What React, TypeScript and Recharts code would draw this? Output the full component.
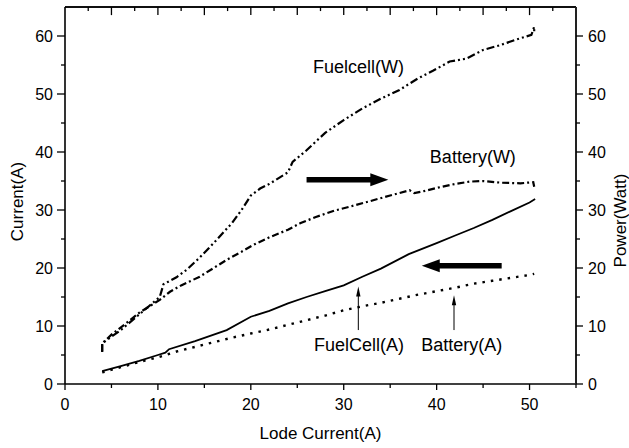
import React from 'react';
import { LineChart, Line, XAxis, YAxis, ReferenceLine, ReferenceDot, Label, CartesianGrid } from 'recharts';

// Lode current (A) sampled along each trace
const fuelCellCurrentX = [4, 6, 8, 10, 10.8, 11.2, 14, 17.4, 20, 22, 24, 26, 28, 30, 32, 34, 37, 40, 42, 44, 46, 48, 50, 50.6];
const fuelCellCurrentY = [2.2, 3.1, 4.0, 5.0, 5.4, 6.0, 7.4, 9.3, 11.6, 12.6, 13.9, 15.0, 16.0, 17.0, 18.5, 19.9, 22.4, 24.3, 25.6, 26.9, 28.3, 29.8, 31.3, 31.9];

const batteryCurrentX = [4, 6, 8, 10, 12, 14, 16, 18, 20, 22, 24, 26, 28, 30, 32, 34, 36, 38, 40, 42, 44, 46, 48, 50, 50.5];
const batteryCurrentY = [2.0, 2.9, 3.8, 4.6, 5.6, 6.4, 7.2, 8.0, 8.7, 9.4, 10.2, 11.0, 11.8, 12.7, 13.4, 14.0, 14.7, 15.4, 16.0, 16.6, 17.3, 17.8, 18.3, 18.8, 19.0];

const batteryPowerX = [4, 4, 5, 6.6, 8, 10.2, 11.3, 12.5, 14.5, 16, 17.4, 19, 20.3, 22, 24, 25.3, 27, 29, 30.7, 33, 35, 37.1, 37.6, 38.5, 40, 42, 43.6, 45, 47, 49, 50.4, 50.5];
const batteryPowerY = [5.6, 7.0, 8.5, 10.5, 12.3, 14.5, 15.9, 17.0, 18.5, 20.0, 21.4, 22.8, 24.0, 25.3, 26.6, 27.7, 28.8, 29.9, 30.6, 31.6, 32.5, 33.4, 32.9, 33.2, 33.8, 34.5, 34.9, 35.0, 34.7, 34.6, 34.8, 34.0];

const fuelCellPowerX = [4, 4, 6, 8, 10.2, 10.6, 12, 13.1, 14.5, 16, 18, 19, 20, 21, 22, 23, 24, 24.5, 26, 28, 30, 32, 34, 36, 38, 39.6, 41.4, 43.2, 45, 46.8, 48.6, 50.2, 50.5, 50.5];
const fuelCellPowerY = [5.5, 7.0, 9.3, 12.0, 15.0, 17.2, 18.4, 19.7, 21.8, 24.3, 27.8, 30.0, 32.5, 33.7, 34.5, 35.5, 36.5, 38.3, 40.3, 43.3, 45.5, 47.5, 49.2, 50.7, 52.7, 54.0, 55.6, 56.1, 57.6, 58.4, 59.4, 60.2, 61.6, 60.5];

// Axis ticks
const xTicks = [0, 5, 10, 15, 20, 25, 30, 35, 40, 45, 50, 55];
const xTopTicks = [2.5, 5, 7.5, 10, 12.5, 15, 17.5, 20, 22.5, 25, 27.5, 30, 32.5, 35, 37.5, 40, 42.5, 45, 47.5, 50, 52.5];
const yTicks = [0, 5, 10, 15, 20, 25, 30, 35, 40, 45, 50, 55, 60];
const X_MAX = 55;
const Y_MAX = 65;

// Curve annotations: [text, lode current, value]
const curveLabels: [string, number, number][] = [
  ['Fuelcell(W)', 31.6, 54.6],
  ['Battery(W)', 43.9, 39.2],
  ['FuelCell(A)', 31.65, 6.8],
  ['Battery(A)', 42.7, 6.8],
];

// Pointer arrows: [x tail, y tail, x tip, y tip]
const thinArrows: [number, number, number, number][] = [
  [31.57, 9.3, 31.57, 16.8],
  [41.87, 9.3, 41.87, 15.3],
];
const thickArrows: [number, number, number, number][] = [
  [26.0, 35.2, 34.8, 35.2],
  [47.0, 20.4, 38.4, 20.4],
];

const zip = (xs: number[], ys: number[]) => xs.map((x, i) => ({ x, y: ys[i] }));
const fuelCellCurrent = zip(fuelCellCurrentX, fuelCellCurrentY);
const batteryCurrent = zip(batteryCurrentX, batteryCurrentY);
const batteryPower = zip(batteryPowerX, batteryPowerY);
const fuelCellPower = zip(fuelCellPowerX, fuelCellPowerY);

const FONT = "Arial, 'Liberation Sans', Helvetica, sans-serif";

const LeftTick = (p: any) => {
  const v = p.payload.value;
  const major = v % 10 === 0;
  return (
    <g>
      <line x1={p.x - (major ? 8 : 4)} x2={p.x} y1={p.y} y2={p.y} stroke="#000" strokeWidth={1.3} />
      {major && (
        <text x={p.x - 12} y={p.y} textAnchor="end" dominantBaseline="central" fontSize={16} fontFamily={FONT} fill="#000">
          {v}
        </text>
      )}
    </g>
  );
};

const RightTick = (p: any) => {
  const v = p.payload.value;
  const major = v % 10 === 0;
  return (
    <g>
      <line x1={p.x} x2={p.x + (major ? 7 : 4)} y1={p.y} y2={p.y} stroke="#000" strokeWidth={1.3} />
      {major && (
        <text x={p.x + 12} y={p.y} textAnchor="start" dominantBaseline="central" fontSize={16} fontFamily={FONT} fill="#000">
          {v}
        </text>
      )}
    </g>
  );
};

const BottomTick = (p: any) => {
  const v = p.payload.value;
  const major = v % 10 === 0;
  return (
    <g>
      <line x1={p.x} x2={p.x} y1={p.y} y2={p.y + (major ? 6 : 4)} stroke="#000" strokeWidth={1.3} />
      {major && (
        <text x={p.x} y={p.y + 20} textAnchor="middle" dominantBaseline="central" fontSize={16} fontFamily={FONT} fill="#000">
          {v}
        </text>
      )}
    </g>
  );
};

const arrowShape = (shaft: number, headLen: number, headHalf: number) => (p: any) => {
  const { x1, y1, x2, y2 } = p;
  const dx = x2 - x1;
  const dy = y2 - y1;
  const len = Math.hypot(dx, dy) || 1;
  const ux = dx / len;
  const uy = dy / len;
  const bx = x2 - ux * headLen;
  const by = y2 - uy * headLen;
  const px = -uy * headHalf;
  const py = ux * headHalf;
  return (
    <g>
      <line x1={x1} y1={y1} x2={bx + ux} y2={by + uy} stroke="#000" strokeWidth={shaft} />
      <polygon points={`${x2},${y2} ${bx + px},${by + py} ${bx - px},${by - py}`} fill="#000" />
    </g>
  );
};

const thinArrow = arrowShape(1, 10, 2.2);
const thickArrow = arrowShape(5.5, 18, 6.5);

// Short inward tick on the top frame edge; the segment runs from the edge down a little way
const topTickShape = (p: any) => (
  <line x1={p.x1} x2={p.x2} y1={p.y1} y2={p.y2} stroke="#000" strokeWidth={1.3} />
);

const textShape = (text: string) => (p: any) => (
  <text x={p.cx} y={p.cy} textAnchor="middle" dominantBaseline="central" fontSize={18} fontFamily={FONT} fill="#000">
    {text}
  </text>
);

export default function App() {
  return (
    <div style={{ position: 'absolute', left: 0, top: 0, background: '#fff' }}>
      <LineChart width={629} height={448} margin={{ top: 7, right: 0, bottom: 0, left: 0 }}>
        {/* top frame edge as a single grid line at the top of the value range */}
        <CartesianGrid
          xAxisId="bottom"
          yAxisId="left"
          vertical={false}
          horizontalValues={[Y_MAX]}
          stroke="#000"
          strokeWidth={1.6}
          strokeDasharray="0"
          fill="none"
        />
        <XAxis
          xAxisId="bottom"
          type="number"
          dataKey="x"
          domain={[0, X_MAX]}
          ticks={xTicks}
          interval={0}
          height={64}
          tickSize={0}
          tickMargin={0}
          tickLine={false}
          tick={BottomTick}
          axisLine={{ stroke: '#000', strokeWidth: 1.6 }}
          allowDataOverflow
        >
          <Label
            content={(lp: any) => {
              const vb = lp.viewBox;
              return (
                <text x={vb.x + vb.width / 2} y={vb.y + 49} textAnchor="middle" dominantBaseline="central" fontSize={17} fontFamily={FONT} fill="#000">
                  Lode Current(A)
                </text>
              );
            }}
          />
        </XAxis>
        <YAxis
          yAxisId="left"
          type="number"
          domain={[0, Y_MAX]}
          ticks={yTicks}
          interval={0}
          width={65}
          tickSize={0}
          tickMargin={0}
          tickLine={false}
          tick={LeftTick}
          axisLine={{ stroke: '#000', strokeWidth: 1.6 }}
          allowDataOverflow
        >
          <Label
            content={(lp: any) => {
              const vb = lp.viewBox;
              const cx = vb.x + 17;
              const cy = vb.y + vb.height / 2 + 6;
              return (
                <text x={cx} y={cy} transform={`rotate(-90 ${cx} ${cy})`} textAnchor="middle" dominantBaseline="central" fontSize={17} fontFamily={FONT} fill="#000">
                  Current(A)
                </text>
              );
            }}
          />
        </YAxis>
        <YAxis
          yAxisId="right"
          orientation="right"
          type="number"
          domain={[0, Y_MAX]}
          ticks={yTicks}
          interval={0}
          width={53}
          tickSize={0}
          tickMargin={0}
          tickLine={false}
          tick={RightTick}
          axisLine={{ stroke: '#222', strokeWidth: 2 }}
          allowDataOverflow
        >
          <Label
            content={(lp: any) => {
              const vb = lp.viewBox;
              const cx = vb.x + 44;
              const cy = vb.y + vb.height / 2 + 25;
              return (
                <text x={cx} y={cy} transform={`rotate(-90 ${cx} ${cy})`} textAnchor="middle" dominantBaseline="central" fontSize={17} fontFamily={FONT} fill="#000">
                  Power(Watt)
                </text>
              );
            }}
          />
        </YAxis>

        {/* top frame edge */}
        <ReferenceLine
          xAxisId="bottom"
          yAxisId="left"
          segment={[{ x: 0, y: Y_MAX }, { x: X_MAX, y: Y_MAX }]}
          stroke="#000"
          strokeWidth={1.6}
        />
        {/* top frame ticks, pointing inward */}
        {xTopTicks.map((v) => (
          <ReferenceLine
            key={`top-${v}`}
            xAxisId="bottom"
            yAxisId="left"
            segment={[{ x: v, y: Y_MAX }, { x: v, y: v % 5 === 0 ? 63.6 : 64.3 }]}
            shape={topTickShape}
          />
        ))}

        <Line
          data={fuelCellCurrent}
          dataKey="y"
          xAxisId="bottom"
          yAxisId="left"
          type="linear"
          stroke="#000"
          strokeWidth={1.8}
          dot={false}
          isAnimationActive={false}
        />
        <Line
          data={batteryCurrent}
          dataKey="y"
          xAxisId="bottom"
          yAxisId="left"
          type="linear"
          stroke="#000"
          strokeWidth={2.4}
          strokeDasharray="2.5 6"
          dot={false}
          isAnimationActive={false}
        />
        <Line
          data={batteryPower}
          dataKey="y"
          xAxisId="bottom"
          yAxisId="right"
          type="linear"
          stroke="#000"
          strokeWidth={2.2}
          strokeDasharray="7 3 2 3"
          dot={false}
          isAnimationActive={false}
        />
        <Line
          data={fuelCellPower}
          dataKey="y"
          xAxisId="bottom"
          yAxisId="right"
          type="linear"
          stroke="#000"
          strokeWidth={2.2}
          strokeDasharray="8 3 2 3 2 3"
          dot={false}
          isAnimationActive={false}
        />

        {thickArrows.map(([xa, ya, xb, yb], i) => (
          <ReferenceLine
            key={`thick-${i}`}
            xAxisId="bottom"
            yAxisId="left"
            segment={[{ x: xa, y: ya }, { x: xb, y: yb }]}
            shape={thickArrow}
          />
        ))}
        {thinArrows.map(([xa, ya, xb, yb], i) => (
          <ReferenceLine
            key={`thin-${i}`}
            xAxisId="bottom"
            yAxisId="left"
            segment={[{ x: xa, y: ya }, { x: xb, y: yb }]}
            shape={thinArrow}
          />
        ))}
        {curveLabels.map(([text, x, y]) => (
          <ReferenceDot key={text} xAxisId="bottom" yAxisId="left" x={x} y={y} r={0} shape={textShape(text)} />
        ))}
      </LineChart>
    </div>
  );
}
